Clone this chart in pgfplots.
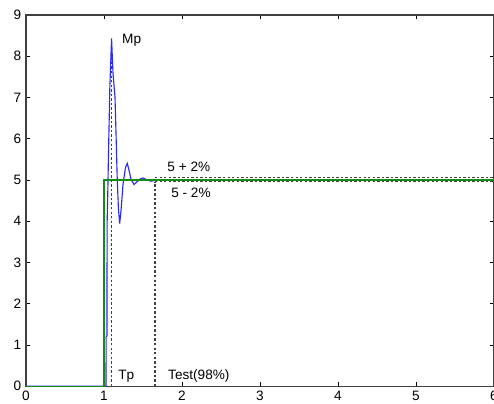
\documentclass[border=0pt]{standalone}
\usepackage{fontspec}
\setmainfont{Liberation Sans}
\usepackage{pgfplots}
\pgfplotsset{compat=1.18}

\definecolor{respblue}{RGB}{40,40,255}
\definecolor{refgreen}{RGB}{20,140,20}

\begin{document}
\begin{tikzpicture}[font=\fontsize{10.2pt}{12pt}\selectfont]
\begin{axis}[
  scale only axis,
  width=351pt, height=278.4pt,
  xmin=0, xmax=6, ymin=0, ymax=9,
  xtick={0,1,...,6}, ytick={0,1,...,9},
  tick align=inside,
  major tick length=3pt,
  axis line style={black!75, line width=0.8pt},
  tick style={black, line width=0.6pt},
  /pgf/number format/assume math mode=true,
  clip=false,
  guide/.style={black!75, line width=0.85pt, dash pattern=on 1.8pt off 1.6pt},
]
% closed-loop step response
\addplot[respblue, line width=0.85pt] coordinates {
  (0,0) (1.026,0) (1.027,1.2) (1.038,1.22) (1.040,3.96) (1.050,4.83)
  (1.056,5.48) (1.075,7.26) (1.097,8.43) (1.115,7.6) (1.141,7.01)
  (1.154,6.13) (1.170,5.0) (1.185,4.3) (1.201,3.94) (1.220,4.3)
  (1.244,4.9) (1.275,5.3) (1.299,5.40) (1.325,5.2) (1.346,5.02)
  (1.385,4.89) (1.420,4.95) (1.460,5.02) (1.504,5.05) (1.550,5.0)
  (1.603,4.97) (1.654,4.99) (1.700,5.0) (6,5)
};
% reference step input
\addplot[refgreen, line width=0.8pt] coordinates {
  (0,0) (1.0,0) (1.0,5) (6,5)
};
% peak time marker
\addplot[guide] coordinates {(1.094,0) (1.094,8.43)};
% settling time marker
\addplot[guide] coordinates {(1.654,0) (1.654,4.96)};
% tolerance band
\addplot[guide] coordinates {(1.654,5.07) (6,5.07)};
\addplot[guide] coordinates {(1.654,4.96) (6,4.96)};
\node[anchor=west, inner sep=0pt] at (axis cs:1.23,8.39) {Mp};
\node[anchor=west, inner sep=0pt] at (axis cs:1.81,5.33) {5 + 2\%};
\node[anchor=west, inner sep=0pt] at (axis cs:1.86,4.68) {5 - 2\%};
\node[anchor=west, inner sep=0pt] at (axis cs:1.18,0.24) {Tp};
\node[anchor=west, inner sep=0pt] at (axis cs:1.82,0.24) {Test(98\%)};
\coordinate (bl) at (rel axis cs:0,0);
\coordinate (tr) at (rel axis cs:1,1);
\end{axis}
\pgfresetboundingbox
\path ([shift={(-19.5pt,-12.75pt)}]bl) rectangle ([shift={(0pt,11.25pt)}]tr);
\end{tikzpicture}
\end{document}
